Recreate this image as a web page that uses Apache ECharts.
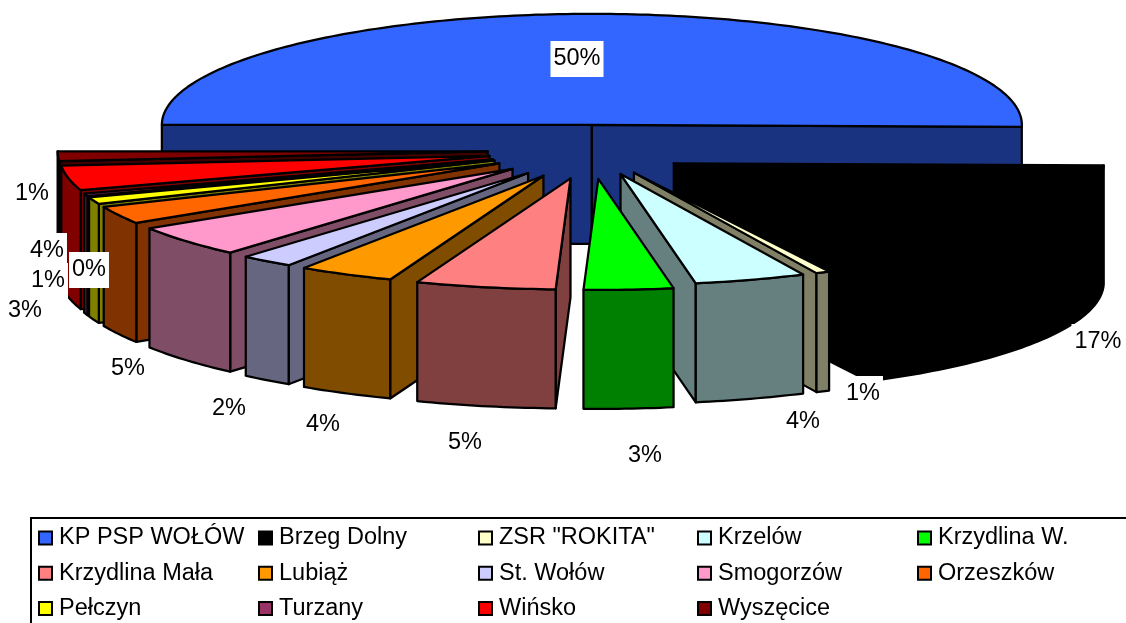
<!DOCTYPE html>
<html>
<head>
<meta charset="utf-8">
<style>html,body{margin:0;padding:0;background:#fff}#c{width:1126px;height:623px}</style>
<script src="https://cdn.jsdelivr.net/npm/echarts@6/dist/echarts.min.js"></script>
</head>
<body>
<div id="c"></div>
<script>
const categories = ['KP PSP WOŁÓW','Brzeg Dolny','ZSR "ROKITA"','Krzelów','Krzydlina W.','Krzydlina Mała','Lubiąż','St. Wołów','Smogorzów','Orzeszków','Pełczyn','Turzany','Wińsko','Wyszęcice'];
const values = [50.28,17.22,0.52,4.18,3.35,5.25,3.6,2.0,4.6,2.6,1.0,0.4,3.6,1.4];
const colors = ['#3366FF','#000000','#FFFFCC','#CCFFFF','#00FF00','#FF8080','#FF9900','#CCCCFF','#FF99CC','#FF6600','#FFFF00','#993366','#FF0000','#800000'];
// label anchor points (text placement only), same order as categories
const labelAnchors = [[577,59],[1098,342],[863,394],[803,422],[645,456],[465,443],[323,425],[229,409],[128,369],[25,311],[48,281],[89,270],[47,251],[32,194]];

const CX = 591, CY = 150, RX = 430, RY = 111, DEPTH = 119, EXPLODE = 0.227;
const total = values.reduce((a, b) => a + b, 0);
const font = '"Liberation Sans", Arial, sans-serif';

function darken(hex) {
  const n = parseInt(hex.slice(1), 16);
  const h = v => Math.round(v / 2).toString(16).padStart(2, '0');
  return '#' + h((n >> 16) & 255) + h((n >> 8) & 255) + h(n & 255);
}
function rad(d) { return d * Math.PI / 180; }

function renderSlice(params, api) {
  const t1 = 270 + api.value(0) / total * 360;
  const t2 = 270 + api.value(1) / total * 360;
  const mid = rad((t1 + t2) / 2);
  // the left front of the reference's pie sits a little further out (perspective)
  const near = Math.sin(mid) < 0.1 && Math.cos(mid) < 0;
  const ax = CX + Math.sin(mid) * RX * EXPLODE * (near ? 1.06 : 1);
  const ay = CY - Math.cos(mid) * RY * EXPLODE * (near ? 1.15 : 1);
  const arc = [];
  const steps = Math.max(2, Math.ceil(t2 - t1));
  for (let i = 0; i <= steps; i++) {
    const t = rad(t1 + (t2 - t1) * i / steps);
    arc.push([ax + Math.sin(t) * RX, ay - Math.cos(t) * RY]);
  }
  const fill = api.visual('color');
  const base = { fill: darken(fill), stroke: '#000', lineWidth: 2.25, lineJoin: 'round' };
  const children = [];
  const quad = pts => children.push({ type: 'polygon', shape: { points: pts }, style: base });
  const down = p => [p[0], p[1] + DEPTH];
  const A = [ax, ay], P1 = arc[0], P2 = arc[arc.length - 1];
  if (P1[0] < A[0]) quad([A, P1, down(P1), down(A)]);
  if (P2[0] > A[0]) quad([P2, A, down(A), down(P2)]);
  if (t2 - t1 < 180) quad(arc.concat(arc.slice().reverse().map(down)));
  children.push({
    type: 'polygon',
    shape: { points: [A].concat(arc) },
    style: { fill: fill, stroke: '#000', lineWidth: 2.25, lineJoin: 'round' }
  });
  return { type: 'group', children: children };
}

function renderLabel(params, api) {
  const i = api.value(0);
  return {
    type: 'text',
    x: labelAnchors[i][0], y: labelAnchors[i][1],
    style: {
      text: Math.round(values[i]) + '%',
      font: '23.5px ' + font, fill: '#000',
      align: 'center', verticalAlign: 'middle',
      backgroundColor: '#fff', padding: [6, 3, 6, 3]
    }
  };
}

let cum = 0;
const series = categories.map((name, i) => {
  const start = cum; cum += values[i];
  const midDeg = (270 + (start + values[i] / 2) / total * 360) % 360;
  return {
    type: 'custom', name: name, coordinateSystem: 'none',
    renderItem: renderSlice, silent: true, animation: false,
    itemStyle: { color: colors[i] },
    z: i === 0 ? 1 : 100 - Math.abs(midDeg - 180) * 0.2,
    data: [[start, cum]]
  };
});
series.push({
  type: 'custom', name: 'labels', coordinateSystem: 'none',
  renderItem: renderLabel, silent: true, animation: false, z: 200,
  data: categories.map((_, i) => [i])
});

const legendColumns = [[0,5,10],[1,6,11],[2,7,12],[3,8,13],[4,9]];
const legendLeft = [38, 258, 478, 697, 917];
const legend = legendColumns.map((col, k) => ({
  orient: 'vertical', left: legendLeft[k], top: 526, padding: 0,
  itemWidth: 13, itemHeight: 13, itemGap: 11.2, selectedMode: false,
  icon: 'rect',
  itemStyle: { borderColor: '#000', borderWidth: 2 },
  textStyle: { fontFamily: font, fontSize: 23.5, color: '#000', padding: [0, 0, 0, 2] },
  data: col.map(i => categories[i])
}));

const chart = echarts.init(document.getElementById('c'), null, { renderer: 'canvas' });
chart.setOption({
  backgroundColor: '#fff',
  animation: false,
  legend: legend,
  graphic: [{
    type: 'rect', left: 30, top: 517, z: -1, silent: true,
    shape: { width: 1200, height: 200 },
    style: { fill: '#fff', stroke: '#000', lineWidth: 2 }
  }],
  series: series
});
</script>
</body>
</html>
